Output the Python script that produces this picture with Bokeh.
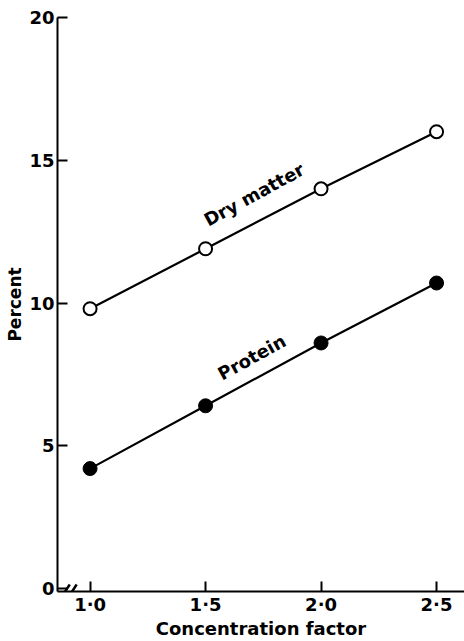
from bokeh.plotting import figure
from bokeh.models import Range1d, FixedTicker, ColumnDataSource
from bokeh.core.properties import value
from bokeh.embed import file_html
from bokeh.resources import INLINE

# Data
conc = [1.0, 1.5, 2.0, 2.5]
dry_matter = [9.8, 11.9, 14.0, 16.0]
protein = [4.2, 6.4, 8.6, 10.7]

x_ticks = [1.0, 1.5, 2.0, 2.5]
x_tick_labels = ["1·0", "1·5", "2·0", "2·5"]
y_ticks = [0, 5, 10, 15, 20]
y_tick_labels = ["0", "5", "10", "15", "20"]

series_labels = ["Dry matter", "Protein"]
label_x = [1.71, 1.70]
label_y = [13.8, 8.1]

FONT = "DejaVu Sans"

p = figure(frame_width=407, frame_height=574, output_backend="svg", toolbar_location=None,
           x_range=Range1d(0.859, 2.621), y_range=Range1d(-0.105, 20),
           min_border_left=57, min_border_right=0, min_border_top=17, min_border_bottom=46)
p.outline_line_color = None
p.grid.visible = False
p.background_fill_color = "white"

# Axes
p.xaxis.ticker = FixedTicker(ticks=x_ticks)
p.xaxis.major_label_overrides = {t: l for t, l in zip(x_ticks, x_tick_labels)}
p.yaxis.ticker = FixedTicker(ticks=y_ticks)
p.yaxis.major_label_overrides = {t: l for t, l in zip(y_ticks, y_tick_labels)}
for ax in (p.xaxis, p.yaxis):
    ax.axis_line_width = 2
    ax.axis_line_color = "black"
    ax.major_tick_line_width = 2
    ax.major_tick_line_color = "black"
    ax.major_tick_in = 10
    ax.major_tick_out = 0
    ax.minor_tick_line_color = None
    ax.major_label_text_font = FONT
    ax.major_label_text_font_style = "bold"
    ax.major_label_text_font_size = "18px"
    ax.major_label_text_color = "black"
    ax.axis_label_text_font = FONT
    ax.axis_label_text_font_style = "bold"
    ax.axis_label_text_color = "black"
p.xaxis.axis_label = "Concentration factor"
p.yaxis.axis_label = "Percent"
p.xaxis.axis_label_text_font_size = "18px"
p.yaxis.axis_label_text_font_size = "17px"
p.xaxis.major_label_standoff = 2
p.xaxis.axis_label_standoff = 0
p.yaxis.major_label_standoff = 3
p.yaxis.axis_label_standoff = 1

# Axis break mark
brk_x0 = [0.873, 0.903]
brk_x1 = [0.912, 0.942]
p.segment(x0=brk_x0, y0=[-0.34, -0.34], x1=brk_x1, y1=[0.14, 0.14],
          line_color="black", line_width=2.5)

# Lines and markers
p.line(conc, dry_matter, line_color="black", line_width=2.2)
p.line(conc, protein, line_color="black", line_width=2.2)
p.scatter(conc, dry_matter, size=13, marker="circle", fill_color="white",
          line_color="black", line_width=2)
p.scatter(conc, protein, size=14, marker="circle", fill_color="black",
          line_color="black", line_width=1)

src = ColumnDataSource(dict(x=label_x, y=label_y, t=series_labels))
p.text(x="x", y="y", text="t", source=src, angle=0.5,
       text_font=value(FONT), text_font_style="bold", text_font_size="18px",
       text_align="center", text_baseline="middle", text_color="black")

open("out.html", "w").write(file_html(p, INLINE))
